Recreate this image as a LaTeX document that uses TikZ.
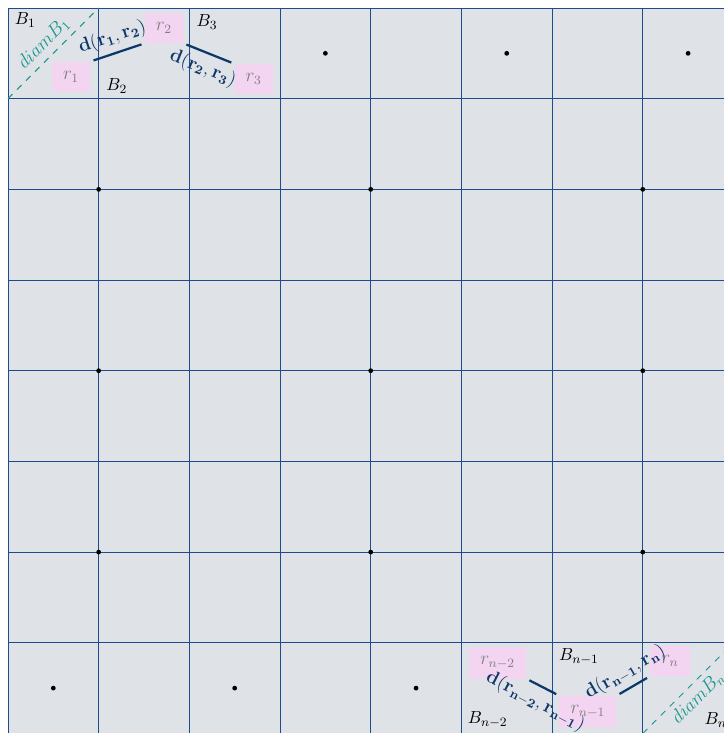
\documentclass[tikz,border=0pt]{standalone}
\usepackage{tikz}
\usetikzlibrary{positioning}

\definecolor{gridblue}{RGB}{28,76,140}
\definecolor{cellgray}{RGB}{223,226,230}
\definecolor{pinkbox}{RGB}{243,212,241}
\definecolor{diamteal}{RGB}{24,150,140}
\definecolor{distblue}{RGB}{12,55,105}

\begin{document}
\begin{tikzpicture}[
every node/.style={font=\large},
block/.style={font=\fontsize{11}{13}\selectfont},
point/.style={fill=pinkbox, text=gray, inner xsep=7pt, inner ysep=6pt},
dist/.style={line width=1.4pt, draw=distblue, shorten <=2pt, shorten >=2pt},
distlabel/.style={sloped, text=distblue},
diamline/.style={draw=diamteal, dash pattern=on 4pt off 4pt, line width=0.6pt},
diamlabel/.style={sloped, text=diamteal}
]

\useasboundingbox (-0.176,0.176) rectangle (15.79,-15.99);
\clip (-0.176,0.176) rectangle (15.79,-15.99);

\fill[cellgray] (0,0) rectangle (16,-16);
\draw[gridblue, line width=0.6pt, step=2] (0,0) grid (16,-16);

\fill (7,-1) circle (1.5pt) (11,-1) circle (1.5pt) (15,-1) circle (1.5pt);
\fill (2,-4) circle (1.5pt) (8,-4) circle (1.5pt) (14,-4) circle (1.5pt);
\fill (2,-8) circle (1.5pt) (8,-8) circle (1.5pt) (14,-8) circle (1.5pt);
\fill (2,-12) circle (1.5pt) (8,-12) circle (1.5pt) (14,-12) circle (1.5pt);
\fill (1,-15) circle (1.5pt) (5,-15) circle (1.5pt) (9,-15) circle (1.5pt);

\draw[diamline] (0,-2) -- node[diamlabel, above] {$diam B_1$} (2,0);
\draw[diamline] (14,-16) -- node[diamlabel, below] {$diam B_n$} (16,-14);

\node[block] (b1) at (0.38,-0.27) {$B_1$};
\node[block] (b2) at (2.40,-1.72) {$B_2$};
\node[block] (b3) at (4.39,-0.31) {$B_3$};
\node[block] (bn2) at (10.58,-15.7) {$B_{n-2}$};
\node[block] (bn1) at (12.59,-14.31) {$B_{n-1}$};
\node[block] (bn) at (15.61,-15.7) {$B_n$};

\node[point] (r1) at (1.39,-1.52) {$r_1$};
\node[point] (r2) at (3.44,-0.44) {$r_2$};
\node[point] (r3) at (5.42,-1.57) {$r_3$};
\node[point] (rn2) at (10.8,-14.44) {$r_{n-2}$};
\node[point] (rn1) at (12.79,-15.52) {$r_{n-1}$};
\node[point] (rn) at (14.6,-14.4) {$r_n$};

\draw[dist] (r1.north east) -- node[distlabel, above] {$\mathbf{d(r_1, r_2)}$} (r2.south west);
\draw[dist] (r2.south east) -- node[distlabel, below] {$\mathbf{d(r_2, r_3)}$} (r3.north west);
\draw[dist] (rn2.south east) -- node[distlabel, below] {$\mathbf{d(r_{n-2}, r_{n-1})}$} (rn1.north west);
\draw[dist] (rn1.north east) -- node[distlabel, above] {$\mathbf{d(r_{n-1}, r_n)}$} (rn.south west);

\end{tikzpicture}
\end{document}
